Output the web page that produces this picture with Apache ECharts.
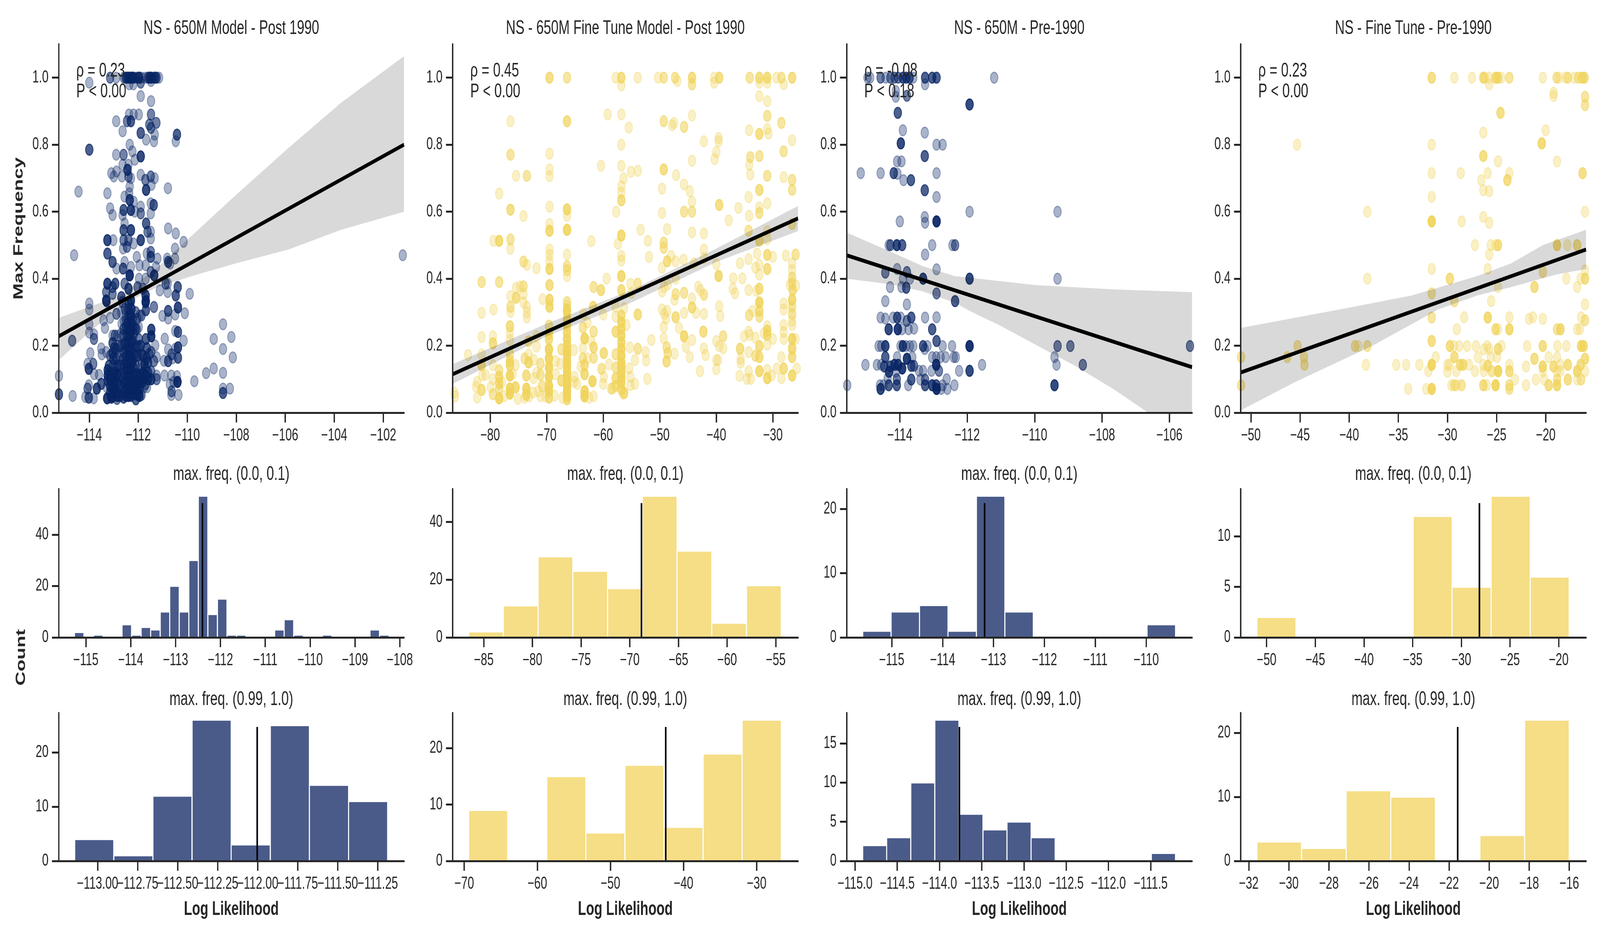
<!DOCTYPE html>
<html><head><meta charset="utf-8">
<style>html,body{margin:0;padding:0;background:#fff;overflow:hidden;width:100%;height:100%}#c{width:6000px;height:2400px;transform-origin:0 0}</style>
<script src="https://cdn.jsdelivr.net/npm/echarts@6/dist/echarts.min.js"></script>
</head><body><div id="c"></div>
<script>
// ---------- scatter values, rows are [log likelihood, max frequency, overlapping points]
const scatterA = [
[-113.15,1,2],[-112.9,1],[-112.6,1],[-112.55,1],[-112.5,1,2],[-112.45,1,2],[-112.4,1,2],[-112.35,1,2],[-112.3,1,2],[-112.25,1,3],[-112.2,1,2],[-112.15,1],[-112.05,1],[-112,1,2],[-111.95,1,3],[-111.85,1],[-111.7,1],[-111.6,1,2],[-111.55,1,2],[-111.5,1,3],[-111.45,1,2],[-111.35,1,2],[-111.3,1,2],[-111.25,1,2],[-111.15,1],
[-114,.985],[-112.37,.98],[-112.2,.98],[-111.9,.985,2],[-111.48,.99],[-111.9,.945],[-111.48,.93],[-112.9,.87],[-112.38,.89],[-112.19,.89],[-111.98,.89],[-111.48,.89,2],[-112.46,.87,2],[-112.3,.87,3],[-111.26,.865,2],[-111.55,.86,2],[-111.48,.85,2],[-112.64,.84],[-111.9,.835,3],[-111.33,.83],[-110.42,.83,3],[-110.47,.81],[-111.68,.815],[-111.36,.81],[-112.35,.8],[-114,.785,3],[-112.9,.77],[-112.24,.78],[-112.6,.77,2],[-111.9,.765,4],[-112.14,.755],[-112.4,.74],[-112.64,.74],[-112.44,.725,4],[-113.1,.715],[-112.89,.72],[-113,.705],[-112.67,.705],[-112.4,.705,2],[-111.9,.71],[-112.3,.7],[-111.49,.705,2],[-111.33,.7],[-111.71,.695,2],[-111.68,.665,4],[-111.46,.68],[-112.35,.675],[-114.44,.66],[-113.26,.655],[-110.79,.67],[-112.37,.655],[-112.56,.645],[-112.35,.635,4],[-112.19,.63],[-111.9,.615],[-111.49,.625],[-111.37,.62,3],[-113.15,.61],[-112.6,.605,3],[-112.3,.605,4],[-111.9,.595,2],[-111.49,.595],[-112.14,.6],[-113.05,.59],[-112.64,.59],[-111.68,.565,3],[-112.56,.565],[-110.78,.55],[-110.47,.535],[-110.15,.51],[-111.49,.54],[-111.62,.54,2],[-112.6,.545,3],[-112.3,.545,4],[-111.9,.515,4],[-113.26,.515,4],[-113.02,.515],[-111.49,.52],[-112.6,.515,2],[-112.4,.515,2],[-112.19,.505],[-110.5,.49],[-114.62,.47],[-113.26,.475,3],[-112.62,.49],[-112.46,.495,2],[-111.49,.48,2],[-111.49,.465,3],[-111.65,.475],[-111.22,.46],[-112.06,.465],[-110.82,.46],[-110.5,.46],[-113.05,.45,3],[-110.78,.45,3],[-110.7,.445],[-112.56,.45],[-111.95,.44],[-111.7,.44],[-112.89,.43],[-112.62,.43,3],[-112.3,.435],[-111.28,.435],[-111.49,.42,2],[-112.35,.41,6],[-111.35,.41,4],[-111.7,.4],[-111.97,.4],
[-113.26,.385,4],[-112.94,.385,3],[-113.05,.375,2],[-112.56,.385,2],[-112.4,.37,4],[-112.03,.375,2],[-111.81,.37,2],[-110.88,.385,2],[-110.8,.385],[-110.39,.375,3],[-111.12,.365],[-110.8,.36],[-110.47,.35,3],[-109.9,.355],[-113.31,.36,2],[-113.05,.355,2],[-113.31,.335,4],[-112.69,.345,3],[-112.3,.335,5],[-111.7,.35,4],[-111.7,.33,4],[-111.36,.315],
[-114,.326],[-114,.308],[-113.29,.332,2],[-114,.264],[-114,.239],[-113.81,.234],[-113.81,.22,2],[-113.42,.276],[-113.15,.283],[-113.36,.253],[-112.89,.295,2],[-113.96,.178],[-113.51,.192],[-113.49,.174],[-113.31,.181],[-114.07,.146],[-113.84,.146,2],[-114.02,.131,4],[-113.8,.115],[-113.6,.113],[-114.02,.082],[-114.07,.072,2],[-114.16,.047],[-114.02,.045,3],[-113.82,.043],[-113.69,.072,4],[-113.51,.086,3],[-113.29,.076],[-114.7,.215,2],
[-113.27,.043,5],[-113.25,.127,4],[-113.25,.111,4],[-113.25,.096,3],[-113.05,.23],[-112.96,.23,2],[-112.85,.23],[-113.05,.208,3],[-112.98,.193,3],[-113.05,.178,3],[-113.02,.162,3],[-113.02,.142,2],[-112.89,.135],[-113.04,.111,3],[-113.04,.092,4],[-113.04,.072,5],[-113.04,.049,5],[-112.87,.041,2],
[-113.15,.06,3],[-113.15,.08,4],[-113.15,.1,4],[-113.15,.12,3],[-112.95,.06,4],[-112.95,.08,4],[-112.95,.1,4],[-112.95,.12,3],[-112.85,.06,4],[-112.85,.09,4],[-112.85,.115,4],[-112.85,.14,3],[-112.05,.07,4],[-112.05,.09,4],[-112.05,.115,4],[-111.95,.07,3],[-111.95,.09,4],[-111.8,.1,4],[-111.8,.12,4],[-111.6,.1,4],[-111.6,.12,3],[-112.9,.16,2],[-112.9,.19,2],[-112.8,.2,2],[-112.1,.06,4],
[-112.7,.3],[-112.65,.33,2],[-112.55,.31,2],[-112.1,.25,3],[-112.05,.28,2],[-112.1,.3,2],[-111.9,.2,3],[-111.8,.17,3],[-111.75,.145,4],[-111.6,.15,3],[-111.55,.175,2],[-113.2,.14,3],[-113.15,.17,2],[-112.9,.06,3],[-112.1,.04,3],[-111.95,.05,4],[-112.85,.05,4],[-113.1,.045,4],
[-112.75,.05,3],[-112.72,.08,2],[-112.78,.11,2],[-112.72,.14,2],[-112.75,.17,2],[-112.7,.2,2],[-112.72,.235],[-112.68,.265],
[-112.6,.045,3],[-112.62,.06,2],[-112.58,.075,2],[-112.6,.09,2],[-112.62,.105,2],[-112.6,.12,2],[-112.58,.14,2],[-112.62,.16,2],[-112.6,.18,2],[-112.58,.205,2],[-112.62,.23,2],[-112.6,.25,2],[-112.58,.272],
[-112.5,.05,4],[-112.5,.07,3],[-112.52,.09,3],[-112.48,.11,3],[-112.5,.13,3],[-112.52,.15,3],[-112.48,.17,2],[-112.5,.19,2],[-112.52,.21,2],[-112.48,.235,2],[-112.5,.255,2],[-112.5,.275,2],[-112.52,.295],
[-112.4,.05,4],[-112.4,.07,4],[-112.42,.09,4],[-112.38,.11,4],[-112.4,.13,4],[-112.42,.15,4],[-112.38,.17,4],[-112.4,.19,4],[-112.42,.21,4],[-112.38,.23,4],[-112.4,.25,4],[-112.42,.27,4],[-112.38,.29,3],[-112.4,.31,3],[-112.38,.325,2],
[-112.3,.05,3],[-112.3,.07,4],[-112.28,.09,4],[-112.32,.11,4],[-112.3,.13,4],[-112.28,.15,4],[-112.32,.17,4],[-112.3,.19,4],[-112.28,.21,4],[-112.32,.23,4],[-112.3,.25,4],[-112.28,.27,4],[-112.3,.29,4],[-112.28,.31,4],
[-112.2,.055,3],[-112.2,.075,3],[-112.22,.095,3],[-112.18,.115,3],[-112.2,.135,3],[-112.22,.155,3],[-112.18,.175,2],[-112.2,.195,2],[-112.22,.215,2],[-112.18,.235,2],[-112.2,.255,2],[-112.22,.275,2],
[-112.13,.111,5],[-112.13,.08,3],[-112.02,.053,4],[-111.87,.053,2],[-111.64,.076],[-111.76,.076],[-112.02,.17,3],[-112.05,.248],[-111.98,.256],[-111.87,.142,2],[-111.67,.131],[-112.1,.14,2],[-112.1,.17,2],[-112.08,.2,2],
[-111.47,.248,4],[-111.47,.228,5],[-111.69,.22,3],[-111.95,.29],[-111.87,.29,2],[-111.69,.334,3],[-111.69,.306,3],[-111.36,.316],[-111.01,.289],[-110.78,.304,3],[-110.78,.281],[-110.49,.293],[-110.38,.314,4],[-110.1,.297],[-110.49,.244],[-110.38,.241,3],[-110.92,.221],[-110.15,.215],[-110.78,.189],[-110.49,.191],[-110.38,.195,4],[-110.64,.174,2],[-110.38,.164,3],[-110.95,.155],[-110.78,.154,3],[-110.6,.162],[-111.25,.166],[-111.31,.201],[-111.36,.154,2],[-111.47,.181,2],[-111.65,.193,3],[-111.67,.162,3],[-111.87,.174,2],[-111.98,.197,2],[-111.98,.22,2],[-111.25,.111],[-111.25,.1,2],[-110.93,.111],[-110.65,.111],[-110.42,.109],[-110.71,.085],[-110.56,.092],[-110.4,.092,6],[-110.64,.064,2],[-110.65,.053],[-110.36,.053],[-109.71,.094],[-109.23,.118],[-111.47,.1,4],[-111.47,.123,2],[-111.69,.111,5],[-111.91,.111,5],[-111.85,.09,3],[-111.7,.085,2],
[-108.92,.22],[-108.54,.264],[-108.2,.226],[-108.54,.19],[-108.14,.165],[-108.92,.132],[-108.54,.119],[-108.54,.072],[-108.54,.059,3],[-108.26,.072],[-101.2,.47],[-115.24,.11],[-115.24,.055,3],[-114.68,.05]
];
const scatterB = [
[-69.5,1,3],[-66.4,1,2],[-57.8,1],[-56.8,1,3],[-53.9,1],[-50.3,1],[-49.3,1,2],[-47.3,1,2],[-44.3,1,3],[-40.4,1],[-39.5,1,3],[-34.1,1,2],[-32.4,1,3],[-31,1,3],[-29.4,1],[-28.5,1,2],[-26.6,1,3],
[-56.8,.977],[-46.9,.99],[-44.3,.98,2],[-40.4,.985],[-32.4,.985],[-31,.985],[-28.1,.98],[-32.4,.945],[-31,.93],[-59.2,.89],[-56.8,.89],[-44.3,.887],[-76.4,.87],[-66.4,.87,3],[-49.3,.87,2],[-47.5,.865],[-47.8,.858],[-45.7,.853,2],[-55.5,.851],[-31,.886,2],[-28.5,.865,2],[-34.2,.843],[-31,.847],[-30.8,.833],[-32.4,.832,3],[-42.2,.81],[-39.6,.82],[-39.6,.81],[-26.6,.813],[-56.8,.8],[-69.5,.773],[-76.4,.77,2],[-40,.778],[-40.3,.757],[-44.3,.752],[-34,.763,2],[-32.4,.766,2],[-28.1,.78,2],[-60.4,.737],[-56.8,.737],[-34.2,.74],[-69.5,.726],[-69.5,.706],[-75.4,.707],[-73.5,.707,2],[-55.1,.719],[-53.9,.722],[-56.4,.7],[-49.3,.726,3],[-47.1,.709],[-34,.711],[-31,.707,2],[-28.1,.703],[-26.6,.695,2],[-78.4,.654],[-49.6,.669],[-45.7,.681],[-44.7,.661],[-56.8,.676],[-56.8,.657],[-56.8,.634,3],[-32.4,.665,3],[-26.6,.665,2],[-34.3,.644],[-44.3,.63],[-39.5,.62,3],[-31,.625],[-69.5,.615],[-76.4,.606,3],[-66.4,.607,4],[-36.1,.611],[-32.4,.613],[-32.4,.596,2],[-45.7,.6,2],[-44.3,.6,2],[-57.7,.6],[-49.6,.596],[-74.1,.587],[-66.4,.588],[-34.2,.588],[-37.8,.574],[-69.5,.563],[-69.5,.543,4],[-66.4,.546,5],[-53.4,.546],[-48.7,.548],[-44.3,.538],[-42.2,.535],[-34.3,.543,2],[-26.6,.563,2],[-56.8,.529,4],[-31,.542],
[-79.4,.513],[-78.4,.513,4],[-76.4,.517,2],[-76.4,.489],[-62.1,.512],[-52.1,.513],[-57.4,.504],[-49.3,.508,2],[-49.3,.492,2],[-31,.518],[-32.4,.513,3],[-69.5,.487],[-69.5,.471],[-69.5,.452],[-69.5,.429,4],[-42.2,.487],[-66.4,.472],[-66.4,.437,2],[-66.4,.425,2],[-66.4,.408],[-56.8,.468],[-56.8,.454],[-51.9,.465],[-56.8,.408,4],[-74.1,.451,2],[-73.5,.441],[-71.8,.431],[-48.7,.452,3],[-48,.468],[-47.2,.452],[-45.8,.457],[-44,.446],[-42.2,.462],[-40,.443],[-39.6,.408,4],[-49.6,.433],[-35.8,.446],[-34.3,.458],[-32.8,.475],[-31,.471,3],[-30,.465],[-27.7,.469],[-26,.472,2],[-33.1,.433],[-32.4,.441],[-31,.429,3],[-32.4,.412],[-26.6,.446],[-26.6,.426],[-37,.401],[-35.4,.401],[-26.6,.404,2],[-26.6,.387,2],[-59.4,.4],[-81.5,.39,2],[-78.4,.39,2],[-27,.381],
[-75.4,.373],[-74.7,.377],[-74.1,.377,2],[-74.1,.354],[-75.4,.343,3],[-76.4,.348],[-69.5,.381,3],[-61.7,.375,2],[-60.4,.366,3],[-56.8,.366,3],[-55.2,.385],[-53.9,.385,2],[-55,.358],[-49.6,.362],[-49.2,.375],[-48.6,.383],[-47.2,.4],[-43.2,.376],[-42.8,.366],[-42.2,.352,2],[-47.2,.354,2],[-45.7,.358,2],[-37.1,.37],[-36.7,.356],[-34.3,.366],[-32.9,.364],[-32.4,.37,3],[-25.9,.379],[-26.5,.366,3],[-70.7,.339],[-69.5,.337,4],[-74.1,.329],[-73.5,.316],[-76.4,.316,2],[-47.4,.337],[-44.3,.341],[-44.3,.314,3],[-32.4,.329,5],[-26.6,.337,4],[-28.1,.326],[-28.1,.308],[-39.5,.318],[-39.3,.289],[-43.6,.298],[-42.2,.295],[-45.7,.298],[-47.2,.285,3],[-49.6,.308],[-48.7,.304],[-49.2,.295],[-48.9,.281],[-53.9,.293,3],[-60,.293],[-61.8,.316,3],[-63.5,.295],[-57.8,.316],[-56.3,.312],[-57.8,.287],[-69.5,.316,4],[-66.4,.32],[-66.4,.308,5],[-79.4,.308],[-81.5,.298],[-76.4,.301],[-73.5,.299],[-73.5,.284],[-26.6,.316,2],[-32.4,.304,3],[-34.2,.291,2],[-33.6,.304],[-32.4,.287,2],[-26.6,.295,2],[-26.6,.274],[-26.6,.262],
[-83.9,.172],[-81.5,.226],[-81.5,.174],[-81.5,.142,3],[-79.5,.228],[-79.5,.207,3],[-79.5,.142],[-81.5,.068,3],[-82.3,.092],[-82.5,.078],[-82.3,.045],[-81.4,.111],[-80.8,.113],[-86.3,.06],[-86.2,.049],[-79.9,.076],[-79.5,.1],[-79.5,.055,2],[-78.4,.043,5],[-78.4,.127,2],[-78.4,.107,3],[-78.4,.088,3],[-78.4,.072,2],[-77.5,.049],[-77.9,.092],[-76.5,.258,3],[-76.5,.238],[-76.5,.217],[-76.5,.174,2],[-76.5,.154,3],[-76.5,.142,4],[-76.5,.111,5],[-76.5,.057,6],[-76.5,.072,5],[-75.5,.142],[-76,.115],[-75.5,.076,4],[-75.1,.041],[-73.9,.162,2],[-73.2,.15,4],[-73.2,.174],[-73.2,.213,2],[-72.3,.158],[-71.1,.146,2],[-71.8,.197],[-71.8,.228],[-73.6,.111,3],[-73.6,.072,5],[-73.6,.053,4],[-73.9,.045],[-73.1,.049],[-72.4,.06],[-72.3,.103],[-71.8,.119],[-71.1,.113,2],[-71.5,.064],[-71.1,.049],[-70.2,.049],[-70.8,.08,2],
[-69.6,.26,2],[-69.6,.236,3],[-69.6,.22,3],[-69.6,.189,6],[-69.6,.162,6],[-69.6,.135,6],[-69.6,.107,6],[-69.6,.08,6],[-69.6,.064,5],[-69.6,.045,3],[-68.6,.051],[-68.4,.154],[-67.6,.146],[-67.4,.189,2],[-68.4,.115],[-67.4,.096,3],[-67.2,.045],
[-66.4,.33,2],[-66.4,.3,3],[-66.4,.28,4],[-66.4,.26,4],[-66.4,.24,4],[-66.4,.22,5],[-66.4,.2,5],[-66.4,.185,5],[-66.4,.17,5],[-66.4,.155,5],[-66.4,.14,5],[-66.4,.125,5],[-66.4,.11,6],[-66.4,.095,6],[-66.4,.08,6],[-66.4,.065,6],[-66.4,.05,6],[-66.4,.04,3],
[-65.2,.187],[-65.1,.107],[-65.1,.092],[-64.6,.086],[-63.6,.254,2],[-63.3,.222,5],[-63.6,.193],[-63.6,.162,2],[-62.8,.162],[-64,.137],[-63.3,.142,3],[-62.8,.269],[-63.3,.115,4],[-63.3,.049,7],[-63.3,.064,5],[-61.7,.242,2],[-61.7,.195,3],[-62.1,.213],[-61.7,.164,2],[-61.9,.094,5],[-61.7,.049],[-62.5,.045],[-60.3,.131,2],[-59.9,.178,3],[-59,.144],[-59.9,.107],[-60,.086],[-58.6,.072],[-57.8,.242,3],[-57.8,.174,2],[-57.8,.135,2],[-57.8,.103,3],[-57.8,.08,2],[-56.5,.057],
[-56.8,.29,3],[-56.8,.27,4],[-56.8,.25,4],[-56.8,.23,4],[-56.8,.21,4],[-56.8,.19,5],[-56.8,.17,5],[-56.8,.15,5],[-56.8,.135,5],[-56.8,.12,5],[-56.8,.105,5],[-56.8,.09,4],[-56.8,.07,3],
[-55.9,.262],[-55.3,.195],[-53.9,.191,2],[-52.5,.181],[-52.4,.156],[-54.4,.157],[-55.4,.132],[-55.2,.107],[-54.4,.086],[-55.2,.082],[-56.3,.059,3],[-52.2,.101],[-51.5,.217],[-49.3,.256],[-49.3,.222],[-48.8,.195,2],[-48.6,.178,2],[-48.8,.153,3],[-47.4,.176],[-46.6,.253],[-45.7,.228,4],[-45.4,.196],[-44.3,.217],[-44.7,.166],[-42.9,.124],[-42.3,.242,3],[-42.2,.192],[-41.9,.172],[-40,.214],[-39.5,.199],[-38.8,.228,2],[-38.8,.192],[-40,.157],[-39.7,.157],[-40,.13],[-35.1,.228],[-34.3,.242],[-34.1,.232],[-35.8,.191,3],[-34.3,.181],[-35.7,.161],[-35.7,.149],[-34.3,.124],[-35.9,.11],[-34.6,.101],[-33.9,.101],[-33.1,.224],[-32.4,.199,3],[-33.1,.17,2],[-32.4,.166,3],[-32.4,.124,4],[-31,.258],[-31,.245,3],[-31,.232,3],[-31.6,.237],[-30,.22],[-31,.203],[-31,.128],[-31,.103,4],[-30.2,.111],[-29.3,.132],[-28.5,.166],[-28.1,.262],[-28.1,.241],[-28.1,.22],[-28.1,.132,3],[-28.5,.103],[-26.6,.22,4],[-26.6,.191,4],[-26.6,.166,3],[-26.6,.111,4],[-25.8,.132],[-26,.22],[-58.2,.074],[-58.5,.072]
];
const scatterC = [
[-114.96,1],[-114.88,1],[-114.57,1,2],[-114.42,1],[-114.28,1,2],[-114.16,1,2],[-114.05,1,2],[-113.91,1,3],[-113.81,1,3],[-113.71,1,3],[-113.6,1],[-113.25,1,3],[-113.04,1,3],[-112.91,1,3],[-111.2,1],
[-113.25,.98],[-114.12,.96],[-114.12,.943],[-113.79,.946,2],[-114.06,.895,3],[-113.91,.843],[-113.26,.836],[-113.97,.804,4],[-112.91,.8],[-112.73,.8],[-114.08,.75],[-113.95,.75],[-113.26,.766,3],[-111.93,.92,4],[-115.16,.715],[-114.57,.715],[-114.18,.715,3],[-114.07,.713],[-113.89,.694],[-113.67,.694,3],[-112.91,.715],[-113.26,.664,3],[-112.91,.644],[-111.93,.6],[-109.32,.6],[-113.26,.584],[-113.25,.567],[-112.91,.571,6],[-114,.571],
[-114.33,.5],[-114.28,.5,2],[-114.09,.5,4],[-113.93,.5,3],[-113.04,.5],[-112.44,.5],[-112.36,.5,2],[-113.25,.472],[-114.08,.429],[-114.43,.418,2],[-113.79,.42,2],[-112.91,.428],[-113.91,.4],[-113.7,.4],[-113.31,.4,4],[-111.93,.4,4],[-109.32,.4],[-114.29,.375],[-113.95,.375],[-113.81,.373,3],[-112.91,.356,2],[-114.43,.333],[-113.79,.323],[-112.36,.333,3],
[-114.57,.284],[-114.43,.281],[-114.2,.284],[-114.08,.284,3],[-113.97,.284],[-113.79,.274,2],[-113.66,.284,3],[-113.25,.284],[-112.91,.285],[-114.33,.249,4],[-114.06,.249,5],[-113.93,.249],[-113.74,.249],[-113.58,.251],[-113.04,.249,3],
[-114.63,.199],[-114.55,.199],[-114.43,.199,4],[-113.98,.199],[-113.91,.199,4],[-113.81,.199],[-113.7,.199],[-113.6,.199],[-113.31,.199,3],[-113.18,.199],[-113.26,.19],[-112.91,.214,3],[-112.73,.199],[-112.45,.199],[-111.93,.199,6],[-109.32,.199,2],[-108.94,.199,2],[-105.39,.199,2],
[-114.43,.166,3],[-114.08,.166],[-113.79,.161,5],[-113.63,.166],[-113.04,.166],[-112.92,.166],[-112.79,.166],[-112.64,.166],[-112.4,.166],[-112.34,.166],[-109.41,.166],
[-115.02,.143],[-114.68,.143],[-114.55,.143],[-114.46,.138,3],[-114.28,.138,3],[-114.16,.143,4],[-114.05,.143,4],[-113.93,.132,5],[-113.66,.14,3],[-113.58,.14,2],[-112.92,.143,6],[-111.56,.143],[-109.35,.143],[-108.57,.143,2],
[-114.32,.122,4],[-114.12,.122],[-113.43,.125],[-113.31,.125],[-113.06,.125],[-112.84,.125,2],[-112.24,.125],[-111.93,.125,4],
[-114.36,.103],[-114.09,.1,2],[-113.66,.099,3],[-113.39,.099],[-113.25,.099,2],[-112.61,.1],[-113.25,.082,3],[-113.04,.082,4],[-112.92,.082,3],[-112.73,.082],[-112.38,.082],[-115.56,.082],[-114.59,.082],[-114.49,.082],[-114.33,.082,3],[-114.09,.082,3],[-113.75,.082],[-109.41,.082,4],
[-114.57,.071,4],[-112.91,.071,6],[-112.77,.071],[-112.59,.071]
];
const scatterD = [
[-31.6,1,3],[-29.3,1],[-27.5,1],[-26.35,1,3],[-26.2,1],[-25.75,1],[-25.1,1,3],[-24.85,1,3],[-24.5,1],[-23.7,1,2],[-20.3,1],[-18.9,1,2],[-18.65,1],[-18,1],[-17.75,1,2],[-17.1,1],[-16.7,1,2],[-16.3,1,3],[-16.05,1,3],
[-25.75,.98],[-19.2,.955],[-19.2,.945],[-16,.943,2],[-16,.918,2],[-24.6,.895,3],[-20,.843],[-26.35,.836],[-20.4,.804,4],[-45.3,.8],[-31.6,.8],[-26.35,.766,3],[-24.85,.75],[-18.85,.75],[-31.6,.715],[-28.65,.715],[-25.9,.715],[-23.7,.715],[-16.25,.715,3],[-26.55,.694],[-23.9,.694,3],[-31.6,.644],[-26.35,.664],[-25.75,.661],[-38.15,.6],[-26.35,.584],[-16,.6],[-31.6,.571,6],[-28.55,.571],[-25.75,.567],
[-27.2,.5],[-25.6,.5],[-25.1,.5],[-24.85,.5,3],[-18.85,.5,4],[-17.8,.5],[-16.8,.5,3],[-25.75,.472],[-31.6,.429],[-25.9,.429],[-20.3,.42,2],[-16,.425],[-38.15,.4],[-29.75,.4,3],[-17.9,.4],[-16.45,.4],[-16,.4,3],[-24.85,.375],[-21.15,.375,3],[-16.8,.375],[-31.6,.356,2],[-29.3,.333,2],[-25.55,.333],[-16,.323],
[-31.6,.284,2],[-28.3,.285],[-25.9,.284,4],[-23.7,.285],[-21.7,.28],[-21.3,.285],[-20.3,.28],[-16.4,.285],[-16,.276,2],[-29.05,.249],[-25.1,.249,3],[-24.85,.249],[-23.7,.249,4],[-18.85,.249,2],[-18.5,.249,4],[-16.8,.249],[-16.5,.25],
[-31.6,.214,3],[-45.25,.199,2],[-39.4,.199,2],[-39.05,.199],[-38.15,.199,2],[-29.75,.199,3],[-29.35,.199],[-28.8,.199],[-28,.199],[-27.1,.199],[-25.95,.199],[-25.75,.19],[-26.3,.189],[-24.5,.199],[-24.85,.19,3],[-21.9,.199],[-20.3,.199,3],[-18.8,.199],[-17.9,.199],[-16.4,.199,4],[-16.15,.199,4],
[-51,.166,2],[-46.3,.166,2],[-44.6,.166,2],[-31.2,.166],[-29.3,.166,3],[-26.9,.166],[-25.6,.166],[-24.95,.166],[-21.15,.161,3],[-19.7,.166],[-18.85,.166],[-16,.161,3],
[-44.55,.143,2],[-38.3,.143],[-35.2,.143],[-34.2,.143],[-32.85,.143],[-31.6,.143,6],[-30,.143],[-29.8,.143],[-28.7,.143,3],[-28.4,.143,3],[-27.8,.143],[-26.35,.143],[-25.9,.14,3],[-23.7,.143],[-22,.138],[-20.3,.138,4],[-19.2,.138,3],[-18.5,.143],[-17.75,.143,3],[-16.45,.143,3],
[-31.95,.124],[-30,.122],[-29.1,.124],[-27.2,.124],[-26.3,.124],[-25.5,.124,2],[-24.85,.124,6],[-23.7,.124,3],[-20.3,.124],[-18.85,.124],[-18.5,.124],[-16.8,.124,4],[-16,.124],
[-21,.099],[-20.15,.099],[-23.15,.099],[-18.85,.099,2],[-17.75,.099,3],[-16.8,.099],[-16.4,.099,2],
[-51,.082,2],[-29.6,.082],[-29.3,.082,2],[-29.05,.082],[-28.55,.082,2],[-26.35,.082,3],[-26,.082],[-25.1,.082,6],[-23.7,.082,2],[-22,.082],[-19.7,.082,3],[-18.85,.082,4],
[-34,.071],[-32.15,.071],[-31.6,.071,6],[-23.7,.071,2]
];
// ---------- regression lines and confidence bands
const lineA = [[-115.25,.228],[-101.15,.8]];
const lineB = [[-86.62,.115],[-25.56,.58]];
const lineC = [[-115.58,.47],[-105.33,.136]];
const lineD = [[-51.04,.12],[-15.9,.487]];
const ciUpperA = [[-115.25,.283],[-112.72,.35],[-111.22,.433],[-109.94,.52],[-108.01,.65],[-105.87,.79],[-103.72,.925],[-101.15,1.064]];
const ciLowerA = [[-115.25,.157],[-114,.24],[-112.62,.324],[-111.22,.375],[-109.62,.412],[-108.01,.446],[-105.87,.487],[-103.72,.546],[-101.15,.6]];
const ciUpperB = [[-86.62,.145],[-70,.266],[-55,.366],[-40,.49],[-25.56,.617]];
const ciLowerB = [[-86.62,.086],[-70,.228],[-55,.329],[-40,.45],[-25.56,.542]];
const ciUpperC = [[-115.58,.538],[-114.24,.479],[-113.31,.437],[-112.38,.408],[-109.97,.381],[-107.64,.368],[-105.33,.36]];
const ciLowerC = [[-115.58,.4],[-114.24,.383],[-113.31,.362],[-112.38,.329],[-111.91,.303],[-111.06,.262],[-109.97,.203],[-108.8,.14],[-107.64,.069],[-106.63,0],[-105.33,-.09]];
const ciUpperD = [[-51.04,.253],[-40.28,.312],[-33.62,.35],[-26.96,.408],[-23.5,.446],[-20.3,.5],[-15.9,.546]];
const ciLowerD = [[-51.04,.007],[-45.6,.09],[-37.62,.2],[-30.96,.308],[-26.96,.35],[-23.5,.375],[-18.98,.412],[-15.9,.429]];
// ---------- histogram counts and bin ranges
const countsLowA = [2,0,1,0,0,5,1,4,3,10,20,10,30,55,9,15,1,1,0,0,0,3,7,1,0,0,1,0,0,0,0,3,1];
const countsLowB = [2,11,28,23,17,49,30,5,18];
const countsLowC = [1,4,5,1,22,4,0,0,0,0,2];
const countsLowD = [2,0,0,0,12,5,14,6];
const countsHighA = [4,1,12,26,3,25,14,11];
const countsHighB = [9,0,15,5,17,6,19,25];
const countsHighC = [2,3,10,18,6,4,5,3,0,0,0,0,1];
const countsHighD = [3,2,11,10,0,4,22];
const rangeLowA = [-115.256,-108.24], rangeLowB = [-86.56,-54.435], rangeLowC = [-115.571,-109.424], rangeLowD = [-50.995,-18.925];
const rangeHighA = [-113.143,-111.188], rangeHighB = [-69.39,-26.63], rangeHighC = [-114.91,-111.206], rangeHighD = [-31.595,-16];
const medianLowA = -112.4, medianLowB = -68.8, medianLowC = -113.174, medianLowD = -28.145;
const medianHighA = -112.003, medianHighB = -42.435, medianHighC = -113.764, medianHighD = -21.569;
// ---------- tick labels
const scatterTitles = ['NS - 650M Model - Post 1990','NS - 650M Fine Tune Model - Post 1990','NS - 650M - Pre-1990','NS - Fine Tune - Pre-1990'];
const rhoLabels = ['ρ = 0.23','ρ = 0.45','ρ = -0.08','ρ = 0.23'];
const pLabels = ['P < 0.00','P < 0.00','P < 0.18','P < 0.00'];
const scatterYTicks = [0,.2,.4,.6,.8,1];
const scatterXTicks = [[-114,-112,-110,-108,-106,-104,-102],[-80,-70,-60,-50,-40,-30],[-114,-112,-110,-108,-106],[-50,-45,-40,-35,-30,-25,-20]];
const lowXTicks = [[-115,-114,-113,-112,-111,-110,-109,-108],[-85,-80,-75,-70,-65,-60,-55],[-115,-114,-113,-112,-111,-110],[-50,-45,-40,-35,-30,-25,-20]];
const highXTicks = [[-113,-112.5,-112.75,-112.25,-112,-111.5,-111.25,-111.75],[-70,-60,-50,-40,-30],[-115,-114.5,-114,-113.5,-113,-112.5,-112,-111.5],[-32,-30,-28,-26,-24,-22,-20,-18,-16]];
const lowYTicks = [[0,20,40],[0,20,40],[0,10,20],[0,5,10]];
const highYTicks = [[0,10,20],[0,10,20],[0,5,10,15],[0,10,20]];
const scatterXRange = [[-115.25,-101.15],[-86.62,-25.56],[-115.577,-105.33],[-51.04,-15.9]];
const lowXRange = [[-115.606,-107.907],[-88.2,-52.71],[-115.885,-109.1],[-52.66,-17.2]];
const highXRange = [[-113.243,-111.086],[-71.575,-24.34],[-115.099,-111.01],[-32.405,-15.163]];

// ---------- layout and styling
const INK = '#262626', FONT = 'Liberation Sans';
const NAVY = '10,36,99', GOLD = '242,211,92';
const HIST = ['#4A5B8A','#F5DE85','#4A5B8A','#F5DE85'];
const DOT = [NAVY,GOLD,NAVY,GOLD];
const LEFT = [220,1697.5,3175,4652.5], WIDTH = 1295;
const ROWS = [[113,1056],[1251,1631],[1824,2203]];
const TITLE_Y = [48,1189,1765];
const SIZE = {title:50, tick:43.5, name:50};

const expand = rows => rows.flatMap(r => Array.from({length:r[2]||1},()=>[r[0],r[1]]));
const minusFmt = d => v => v.toFixed(d).replace('-','\u2212');

const option = {animation:false,backgroundColor:'#fff',grid:[],xAxis:[],yAxis:[],series:[],title:[],graphic:[]};

function addAxes(col,row,xr,xt,yMax,yt,xd,yd,extra){
  const g = option.grid.length;
  option.grid.push({left:LEFT[col],width:WIDTH,top:ROWS[row][0],height:ROWS[row][1]-ROWS[row][0],containLabel:false});
  const common = {
    axisTick:{show:true,length:25,inside:false,lineStyle:{color:INK,width:5}},
    axisLine:{show:true,onZero:false,lineStyle:{color:INK,width:5}},
    splitLine:{show:false},z:6
  };
  option.xAxis.push(Object.assign({type:'value',gridIndex:g,min:xr[0],max:xr[1],position:'bottom'},common,{
    axisTick:Object.assign({},common.axisTick,{customValues:xt}),
    axisLabel:{customValues:xt,formatter:minusFmt(xd),color:INK,fontFamily:FONT,fontSize:SIZE.tick,margin:37,hideOverlap:false,showMinLabel:true,showMaxLabel:true}
  },extra.x||{}));
  option.yAxis.push(Object.assign({type:'value',gridIndex:g,min:0,max:yMax,position:'left'},common,{
    axisTick:Object.assign({},common.axisTick,{customValues:yt}),
    axisLabel:{customValues:yt,formatter:minusFmt(yd),color:INK,fontFamily:FONT,fontSize:SIZE.tick,margin:38,hideOverlap:false,showMinLabel:true,showMaxLabel:true}
  },extra.y||{}));
  return g;
}
function addTitle(col,row,text){
  option.title.push({text,left:LEFT[col]+WIDTH/2,top:TITLE_Y[row],textAlign:'center',padding:0,
    textStyle:{color:INK,fontFamily:FONT,fontSize:SIZE.title,fontWeight:'normal'}});
}
function band(g,upper,lower){
  const pts = upper.concat(lower.slice().reverse());
  option.series.push({type:'custom',xAxisIndex:g,yAxisIndex:g,z:3,clip:true,silent:true,data:pts,
    encode:{x:0,y:1},
    renderItem:(p,api)=> p.dataIndex!==0?null:({type:'polygon',shape:{points:pts.map(q=>api.coord(q))},style:{fill:'rgba(0,0,0,0.15)',stroke:null}})});
}
function hist(g,col,range,counts,median,top){
  const w=(range[1]-range[0])/counts.length;
  const rows=counts.map((c,i)=>[range[0]+i*w,range[0]+(i+1)*w,c]);
  option.series.push({type:'custom',xAxisIndex:g,yAxisIndex:g,z:2,silent:true,data:rows,encode:{x:[0,1],y:2},
    renderItem:(p,api)=>{
      const a=api.coord([api.value(0),0]),b=api.coord([api.value(1),api.value(2)]);
      return {type:'rect',shape:{x:a[0],y:b[1],width:b[0]-a[0],height:a[1]-b[1]},style:{fill:HIST[col],stroke:'#fff',lineWidth:4}};
    }});
  option.series.push({type:'line',xAxisIndex:g,yAxisIndex:g,z:4,silent:true,showSymbol:false,data:[[median,0],[median,top]],lineStyle:{color:'#000',width:6,cap:'butt'}});
}
const scatters=[scatterA,scatterB,scatterC,scatterD], lines=[lineA,lineB,lineC,lineD];
const uppers=[ciUpperA,ciUpperB,ciUpperC,ciUpperD], lowers=[ciLowerA,ciLowerB,ciLowerC,ciLowerD];
const lowC=[countsLowA,countsLowB,countsLowC,countsLowD], highC=[countsHighA,countsHighB,countsHighC,countsHighD];
const lowR=[rangeLowA,rangeLowB,rangeLowC,rangeLowD], highR=[rangeHighA,rangeHighB,rangeHighC,rangeHighD];
const lowM=[medianLowA,medianLowB,medianLowC,medianLowD], highM=[medianHighA,medianHighB,medianHighC,medianHighD];
const highXDec=[2,0,1,0];

for(let c=0;c<4;c++){
  const nameY = c===0 ? {name:'Max Frequency',nameLocation:'middle',nameGap:124,nameRotate:90,nameTextStyle:{color:INK,fontFamily:FONT,fontSize:SIZE.name,fontWeight:'bold'}} : {};
  let g=addAxes(c,0,scatterXRange[c],scatterXTicks[c],1.1,scatterYTicks,0,1,{y:nameY});
  addTitle(c,0,scatterTitles[c]);
  option.series.push({type:'scatter',xAxisIndex:g,yAxisIndex:g,z:2,silent:true,symbol:'circle',symbolSize:28,large:false,
    data:expand(scatters[c]),itemStyle:{color:`rgba(${DOT[c]},0.35)`,borderColor:`rgba(${DOT[c]},0.35)`,borderWidth:3,opacity:1}});
  band(g,uppers[c],lowers[c]);
  option.series.push({type:'line',xAxisIndex:g,yAxisIndex:g,z:4,silent:true,showSymbol:false,data:lines[c],lineStyle:{color:'#000',width:10}});
  option.graphic.push({type:'text',z:100,left:LEFT[c]+66,top:157,style:{text:rhoLabels[c],font:`${SIZE.title}px "${FONT}"`,fill:INK}});
  option.graphic.push({type:'text',z:100,left:LEFT[c]+66,top:210,style:{text:pLabels[c],font:`${SIZE.title}px "${FONT}"`,fill:INK}});

  const lm=Math.max(...lowC[c]);
  g=addAxes(c,1,lowXRange[c],lowXTicks[c],lm*1.05,lowYTicks[c],0,0,{});
  addTitle(c,1,'max. freq. (0.0, 0.1)');
  hist(g,c,lowR[c],lowC[c],lowM[c],lm*.95);

  const hm=Math.max(...highC[c]);
  g=addAxes(c,2,highXRange[c],highXTicks[c],hm*1.05,highYTicks[c],highXDec[c],0,{x:{name:'Log Likelihood',nameLocation:'middle',nameGap:99,nameTextStyle:{color:INK,fontFamily:FONT,fontSize:SIZE.name,fontWeight:'bold'}}});
  addTitle(c,2,'max. freq. (0.99, 1.0)');
  hist(g,c,highR[c],highC[c],highM[c],hm*.95);
}
option.graphic.push({type:'text',z:100,x:80,y:1682,rotation:Math.PI/2,style:{text:'Count',font:`bold ${SIZE.name}px "${FONT}"`,fill:INK,textAlign:'center',textVerticalAlign:'middle'}});

// The chart is laid out on a 6000x2400 board; the board is fitted to the window the browser really gave.
const board=document.getElementById('c');
board.style.transform=`scale(${Math.min(1,innerWidth/6000)},${Math.min(1,innerHeight/2400)})`;
const chart=echarts.init(board,null,{renderer:'canvas',width:6000,height:2400});
chart.setOption(option);
</script></body></html>
